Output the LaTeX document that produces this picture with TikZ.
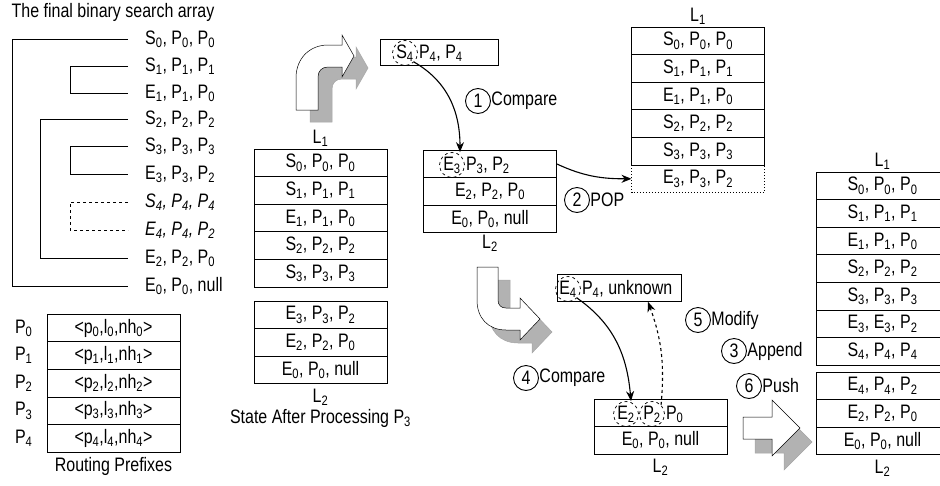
\documentclass[tikz,border=0pt]{standalone}
\usepackage{fontspec}
\setmainfont{Liberation Sans}[FakeStretch=0.82]
\usetikzlibrary{positioning,arrows.meta}

\newcommand{\subn}[1]{\textsubscript{#1}}

\tikzset{
  cell/.style={draw, line width=1pt, minimum width=133pt, minimum height=27.6pt, inner sep=0pt, outer sep=0pt},
  dcirc/.style={draw, dashed, circle, line width=0.7pt, minimum size=25pt, inner sep=0pt},
  stepno/.style={draw, circle, line width=0.9pt, minimum size=25pt, inner sep=0pt},
  ent/.style={anchor=west, inner sep=0pt},
  lab/.style={inner sep=1pt},
  flow/.style={line width=1.1pt, -{Stealth[length=10pt,width=8pt]}},
  blockfront/.style={draw, line width=0.5pt, fill=white},
  blockback/.style={draw=gray!70, line width=0.5pt, fill=gray!60},
}

\begin{document}
\begin{tikzpicture}[x=1pt, y=-1pt, font=\fontsize{19.5}{22}\selectfont]
\useasboundingbox (0,0) rectangle (940,485);

% final binary search array
\node (title) at (113,12) {The final binary search array};
\node[ent] (t0) at (145,39) {S\subn{0}, P\subn{0}, P\subn{0}};
\node[ent] (t1) at (145,66) {S\subn{1}, P\subn{1}, P\subn{1}};
\node[ent] (t2) at (145,93) {E\subn{1}, P\subn{1}, P\subn{0}};
\node[ent] (t3) at (145,119) {S\subn{2}, P\subn{2}, P\subn{2}};
\node[ent] (t4) at (145,146) {S\subn{3}, P\subn{3}, P\subn{3}};
\node[ent] (t5) at (145,174) {E\subn{3}, P\subn{3}, P\subn{2}};
\node[ent] (t6) at (145,202) {\itshape S\subn{4}, P\subn{4}, P\subn{4}};
\node[ent] (t7) at (145,230) {\itshape E\subn{4}, P\subn{4}, P\subn{2}};
\node[ent] (t8) at (145,258) {E\subn{2}, P\subn{2}, P\subn{0}};
\node[ent] (t9) at (145,286) {E\subn{0}, P\subn{0}, null};
\begin{scope}[line width=0.9pt]
\draw ([xshift=-17pt]t0.west) -- ++(-116,0) |- ([xshift=-17pt]t9.west);
\draw ([xshift=-17pt]t1.west) -- ++(-58,0) |- ([xshift=-17pt]t2.west);
\draw ([xshift=-17pt]t3.west) -- ++(-88,0) |- ([xshift=-17pt]t8.west);
\draw ([xshift=-17pt]t4.west) -- ++(-58,0) |- ([xshift=-17pt]t5.west);
\draw[dashed] ([xshift=-17pt]t6.west) -- ++(-58,0) |- ([xshift=-17pt]t7.west);
\end{scope}

% routing prefixes
\node[cell] (pr0) at (113.5,328) {\textless p\subn{0},l\subn{0},nh\subn{0}\textgreater};
\node[cell, below=0pt of pr0] (pr1) {\textless p\subn{1},l\subn{1},nh\subn{1}\textgreater};
\node[cell, below=0pt of pr1] (pr2) {\textless p\subn{2},l\subn{2},nh\subn{2}\textgreater};
\node[cell, below=0pt of pr2] (pr3) {\textless p\subn{3},l\subn{3},nh\subn{3}\textgreater};
\node[cell, below=0pt of pr3] (pr4) {\textless p\subn{4},l\subn{4},nh\subn{4}\textgreater};
\node[left=11pt of pr0] (pl0) {P\subn{0}};
\node[left=11pt of pr1] (pl1) {P\subn{1}};
\node[left=11pt of pr2] (pl2) {P\subn{2}};
\node[left=11pt of pr3] (pl3) {P\subn{3}};
\node[left=11pt of pr4] (pl4) {P\subn{4}};
\node[lab, below=4pt of pr4] (rp) {Routing Prefixes};

% state after processing P3
\node[cell] (a1) at (320.5,162.8) {S\subn{0}, P\subn{0}, P\subn{0}};
\node[cell, below=0pt of a1] (a2) {S\subn{1}, P\subn{1}, P\subn{1}};
\node[cell, below=0pt of a2] (a3) {E\subn{1}, P\subn{1}, P\subn{0}};
\node[cell, below=0pt of a3] (a4) {S\subn{2}, P\subn{2}, P\subn{2}};
\node[cell, below=0pt of a4] (a5) {S\subn{3}, P\subn{3}, P\subn{3}};
\node[lab, above=1pt of a1] (al) {L\subn{1}};
\node[cell] (b1) at (320.5,314.8) {E\subn{3}, P\subn{3}, P\subn{2}};
\node[cell, below=0pt of b1] (b2) {E\subn{2}, P\subn{2}, P\subn{0}};
\node[cell, below=0pt of b2] (b3) {E\subn{0}, P\subn{0}, null};
\node[lab, below=4pt of b3] (bl) {L\subn{2}};
\node[lab, below=1pt of bl] (state) {State After Processing P\subn{3}};

% block arrows
\draw[blockback, shift={(14,12)}] (296,110) -- (296,78) .. controls (296,58) and (310,45) .. (328,45) -- (342,45) -- (342,35) -- (354,56) -- (342,77) -- (342,67) -- (328,67) .. controls (322,67) and (318,71) .. (318,77) -- (318,110) -- cycle;
\draw[blockfront] (296,110) -- (296,78) .. controls (296,58) and (310,45) .. (328,45) -- (342,45) -- (342,35) -- (354,56) -- (342,77) -- (342,67) -- (328,67) .. controls (322,67) and (318,71) .. (318,77) -- (318,110) -- cycle;
\draw[blockback, shift={(12,13)}] (477,267) -- (477,300) .. controls (477,318) and (488,330) .. (506,330) -- (520,330) -- (520,340) -- (540,319) -- (520,298) -- (520,308) -- (506,308) .. controls (501,308) and (498,305) .. (498,300) -- (498,267) -- cycle;
\draw[blockfront] (477,267) -- (477,300) .. controls (477,318) and (488,330) .. (506,330) -- (520,330) -- (520,340) -- (540,319) -- (520,298) -- (520,308) -- (506,308) .. controls (501,308) and (498,305) .. (498,300) -- (498,267) -- cycle;
\draw[blockback, shift={(12,14)}] (743,417) -- (772,417) -- (772,400) -- (800,428) -- (772,456) -- (772,439) -- (743,439) -- cycle;
\draw[blockfront] (743,417) -- (772,417) -- (772,400) -- (800,428) -- (772,456) -- (772,439) -- (743,439) -- cycle;

% new entry S4
\node[cell, minimum width=118pt, minimum height=26pt] (sbox) at (439,52) {};
\node[dcirc] (cs4) at (405,53) {S\subn{4}};
\node[right=1pt of cs4, inner sep=0pt] (st4) {P\subn{4}, P\subn{4}};

% L2 before pop
\node[cell] (m1) at (490,163.8) {};
\node[dcirc] (ce3) at (452,165) {E\subn{3}};
\node[right=1pt of ce3, inner sep=0pt] (mt1) {P\subn{3}, P\subn{2}};
\node[cell, below=0pt of m1] (m2) {E\subn{2}, P\subn{2}, P\subn{0}};
\node[cell, below=0pt of m2] (m3) {E\subn{0}, P\subn{0}, null};
\node[lab, below=1pt of m3] (ml) {L\subn{2}};

% L1 after pop
\node[cell] (r1) at (698,40.8) {S\subn{0}, P\subn{0}, P\subn{0}};
\node[cell, below=0pt of r1] (r2) {S\subn{1}, P\subn{1}, P\subn{1}};
\node[cell, below=0pt of r2] (r3) {E\subn{1}, P\subn{1}, P\subn{0}};
\node[cell, below=0pt of r3] (r4) {S\subn{2}, P\subn{2}, P\subn{2}};
\node[cell, below=0pt of r4] (r5) {S\subn{3}, P\subn{3}, P\subn{3}};
\node[cell, draw=none, below=0pt of r5] (r6) {E\subn{3}, P\subn{3}, P\subn{2}};
\draw[dotted, line width=1pt] (r6.north west) -- (r6.south west) -- (r6.south east) -- (r6.north east);
\node[lab, above=1pt of r1] (rl) {L\subn{1}};

% new entry E4
\node[cell, minimum width=124pt] (ubox) at (619,288) {};
\node[dcirc] (ce4) at (568,289) {E\subn{4}};
\node[right=1pt of ce4, inner sep=0pt] (ut) {P\subn{4}, unknown};

% L2 compare
\node[cell] (n1) at (660.5,412.8) {};
\node[dcirc] (ce2) at (626,414) {E\subn{2}};
\node[dcirc] (cp2) at (652,414) {P\subn{2}};
\node[right=1pt of cp2, inner sep=0pt] (nt1) {P\subn{0}};
\node[cell, below=0pt of n1] (n2) {E\subn{0}, P\subn{0}, null};
\node[lab, below=4pt of n2] (nl) {L\subn{2}};

% final L1 and L2
\node[cell] (f1) at (882.5,185.8) {S\subn{0}, P\subn{0}, P\subn{0}};
\node[cell, below=0pt of f1] (f2) {S\subn{1}, P\subn{1}, P\subn{1}};
\node[cell, below=0pt of f2] (f3) {E\subn{1}, P\subn{1}, P\subn{0}};
\node[cell, below=0pt of f3] (f4) {S\subn{2}, P\subn{2}, P\subn{2}};
\node[cell, below=0pt of f4] (f5) {S\subn{3}, P\subn{3}, P\subn{3}};
\node[cell, below=0pt of f5] (f6) {E\subn{3}, E\subn{3}, P\subn{2}};
\node[cell, below=0pt of f6] (f7) {S\subn{4}, P\subn{4}, P\subn{4}};
\node[lab, above=1pt of f1] (fl) {L\subn{1}};
\node[cell] (g1) at (882.5,385.8) {E\subn{4}, P\subn{4}, P\subn{2}};
\node[cell, below=0pt of g1] (g2) {E\subn{2}, P\subn{2}, P\subn{0}};
\node[cell, below=0pt of g2] (g3) {E\subn{0}, P\subn{0}, null};
\node[lab, below=4pt of g3] (gl) {L\subn{2}};

% steps
\node[stepno] (s1) at (478,101) {1};
\node[right=-3pt of s1] (s1t) {Compare};
\node[stepno] (s2) at (577,200) {2};
\node[right=-3pt of s2] (s2t) {POP};
\node[stepno] (s3) at (734,351) {3};
\node[right=-3pt of s3] (s3t) {Append};
\node[stepno] (s4) at (526,378) {4};
\node[right=-3pt of s4] (s4t) {Compare};
\node[stepno] (s5) at (698,320) {5};
\node[right=-3pt of s5] (s5t) {Modify};
\node[stepno] (s6) at (749,386) {6};
\node[right=-3pt of s6] (s6t) {Push};

\draw[flow] (cs4.south east) to[out=-30, in=90] ([xshift=8pt]ce3.north);
\draw[flow] (m1.east) to[out=-25, in=180] (r6.west);
\draw[flow] (ce4.south east) to[out=-35, in=95] ([xshift=5pt]ce2.north);
\draw[flow, dashed] (cp2.north east) to[out=85, in=-70] ([xshift=29pt]ubox.south);
\end{tikzpicture}
\end{document}
